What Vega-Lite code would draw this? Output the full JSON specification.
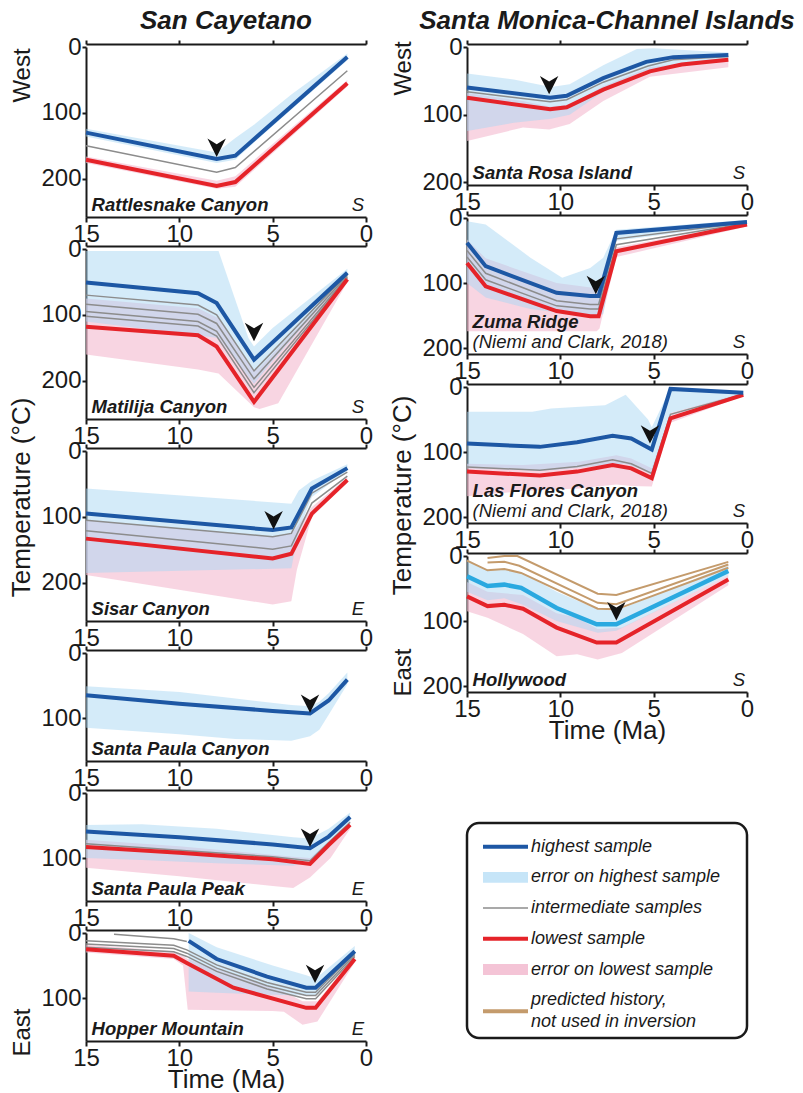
{
  "$schema": "https://vega.github.io/schema/vega-lite/v6.json",
  "padding": {"left": 8, "top": 8, "right": 0, "bottom": 0},
  "spacing": 16,
  "datasets": {
    "lines": [
      {"site":"RC","s":"hi","t":15,"T":130},{"site":"RC","s":"hi","t":8,"T":170},{"site":"RC","s":"hi","t":7,"T":165},{"site":"RC","s":"hi","t":1,"T":15},
      {"site":"RC","s":"g1","t":15,"T":150},{"site":"RC","s":"g1","t":8,"T":190},{"site":"RC","s":"g1","t":7,"T":183},{"site":"RC","s":"g1","t":1,"T":36},
      {"site":"RC","s":"lo","t":15,"T":171},{"site":"RC","s":"lo","t":8,"T":211},{"site":"RC","s":"lo","t":7,"T":205},{"site":"RC","s":"lo","t":1,"T":55},

      {"site":"MC","s":"hi","t":15,"T":51},{"site":"MC","s":"hi","t":9,"T":67},{"site":"MC","s":"hi","t":8,"T":82},{"site":"MC","s":"hi","t":6,"T":168},{"site":"MC","s":"hi","t":1,"T":36},
      {"site":"MC","s":"g1","t":15,"T":70},{"site":"MC","s":"g1","t":9,"T":85},{"site":"MC","s":"g1","t":8,"T":100},{"site":"MC","s":"g1","t":6,"T":185},{"site":"MC","s":"g1","t":1,"T":38},
      {"site":"MC","s":"g2","t":15,"T":84},{"site":"MC","s":"g2","t":9,"T":99},{"site":"MC","s":"g2","t":8,"T":113},{"site":"MC","s":"g2","t":6,"T":197},{"site":"MC","s":"g2","t":1,"T":40},
      {"site":"MC","s":"g3","t":15,"T":95},{"site":"MC","s":"g3","t":9,"T":110},{"site":"MC","s":"g3","t":8,"T":125},{"site":"MC","s":"g3","t":6,"T":210},{"site":"MC","s":"g3","t":1,"T":42},
      {"site":"MC","s":"g4","t":15,"T":102},{"site":"MC","s":"g4","t":9,"T":117},{"site":"MC","s":"g4","t":8,"T":132},{"site":"MC","s":"g4","t":6,"T":218},{"site":"MC","s":"g4","t":1,"T":44},
      {"site":"MC","s":"lo","t":15,"T":118},{"site":"MC","s":"lo","t":9,"T":131},{"site":"MC","s":"lo","t":8,"T":148},{"site":"MC","s":"lo","t":6,"T":232},{"site":"MC","s":"lo","t":1,"T":46},

      {"site":"SC","s":"hi","t":15,"T":95},{"site":"SC","s":"hi","t":5,"T":120},{"site":"SC","s":"hi","t":4,"T":116},{"site":"SC","s":"hi","t":2.9,"T":57},{"site":"SC","s":"hi","t":1,"T":26},
      {"site":"SC","s":"g1","t":15,"T":105},{"site":"SC","s":"g1","t":5,"T":130},{"site":"SC","s":"g1","t":4,"T":125},{"site":"SC","s":"g1","t":2.9,"T":64},{"site":"SC","s":"g1","t":1,"T":32},
      {"site":"SC","s":"g2","t":15,"T":121},{"site":"SC","s":"g2","t":5,"T":149},{"site":"SC","s":"g2","t":4,"T":144},{"site":"SC","s":"g2","t":2.9,"T":79},{"site":"SC","s":"g2","t":1,"T":38},
      {"site":"SC","s":"lo","t":15,"T":133},{"site":"SC","s":"lo","t":5,"T":163},{"site":"SC","s":"lo","t":4,"T":156},{"site":"SC","s":"lo","t":2.9,"T":95},{"site":"SC","s":"lo","t":1,"T":44},

      {"site":"SPC","s":"hi","t":15,"T":65},{"site":"SPC","s":"hi","t":10,"T":78},{"site":"SPC","s":"hi","t":5,"T":89},{"site":"SPC","s":"hi","t":3,"T":93},{"site":"SPC","s":"hi","t":2,"T":73},{"site":"SPC","s":"hi","t":1,"T":41},

      {"site":"SPP","s":"hi","t":15,"T":59},{"site":"SPP","s":"hi","t":10,"T":68},{"site":"SPP","s":"hi","t":5,"T":79},{"site":"SPP","s":"hi","t":3,"T":85},{"site":"SPP","s":"hi","t":2,"T":67},{"site":"SPP","s":"hi","t":0.85,"T":37},
      {"site":"SPP","s":"g1","t":15,"T":78},{"site":"SPP","s":"g1","t":10,"T":88},{"site":"SPP","s":"g1","t":5,"T":98},{"site":"SPP","s":"g1","t":3,"T":104},{"site":"SPP","s":"g1","t":2,"T":76},{"site":"SPP","s":"g1","t":0.85,"T":45},
      {"site":"SPP","s":"lo","t":15,"T":83},{"site":"SPP","s":"lo","t":10,"T":92},{"site":"SPP","s":"lo","t":5,"T":102},{"site":"SPP","s":"lo","t":3,"T":109},{"site":"SPP","s":"lo","t":2,"T":80},{"site":"SPP","s":"lo","t":0.85,"T":49},

      {"site":"HM","s":"g0","t":13.5,"T":2},{"site":"HM","s":"g0","t":10.3,"T":9},{"site":"HM","s":"g0","t":9.6,"T":13},
      {"site":"HM","s":"hi","t":9.5,"T":12},{"site":"HM","s":"hi","t":8,"T":40},{"site":"HM","s":"hi","t":5.3,"T":67},{"site":"HM","s":"hi","t":3.2,"T":84},{"site":"HM","s":"hi","t":2.7,"T":84},{"site":"HM","s":"hi","t":0.6,"T":28},
      {"site":"HM","s":"g1","t":15,"T":12},{"site":"HM","s":"g1","t":10.3,"T":19},{"site":"HM","s":"g1","t":9.6,"T":26},{"site":"HM","s":"g1","t":8,"T":49},{"site":"HM","s":"g1","t":5.3,"T":76},{"site":"HM","s":"g1","t":3.2,"T":91},{"site":"HM","s":"g1","t":2.7,"T":91},{"site":"HM","s":"g1","t":0.6,"T":30},
      {"site":"HM","s":"g2","t":15,"T":17},{"site":"HM","s":"g2","t":10.3,"T":24},{"site":"HM","s":"g2","t":9.6,"T":31},{"site":"HM","s":"g2","t":8,"T":54},{"site":"HM","s":"g2","t":5.3,"T":81},{"site":"HM","s":"g2","t":3.2,"T":96},{"site":"HM","s":"g2","t":2.7,"T":96},{"site":"HM","s":"g2","t":0.6,"T":33},
      {"site":"HM","s":"g3","t":15,"T":22},{"site":"HM","s":"g3","t":10.3,"T":29},{"site":"HM","s":"g3","t":9.6,"T":36},{"site":"HM","s":"g3","t":8,"T":59},{"site":"HM","s":"g3","t":5.3,"T":86},{"site":"HM","s":"g3","t":3.2,"T":101},{"site":"HM","s":"g3","t":2.7,"T":101},{"site":"HM","s":"g3","t":0.6,"T":36},
      {"site":"HM","s":"lo","t":15,"T":25},{"site":"HM","s":"lo","t":10.3,"T":35},{"site":"HM","s":"lo","t":9.6,"T":46},{"site":"HM","s":"lo","t":7.1,"T":84},{"site":"HM","s":"lo","t":3.2,"T":115},{"site":"HM","s":"lo","t":2.7,"T":115},{"site":"HM","s":"lo","t":0.6,"T":40},

      {"site":"SR","s":"hi","t":15,"T":60},{"site":"SR","s":"hi","t":10.55,"T":75},{"site":"SR","s":"hi","t":9.66,"T":72},{"site":"SR","s":"hi","t":7.7,"T":46},{"site":"SR","s":"hi","t":5.4,"T":22},{"site":"SR","s":"hi","t":3.95,"T":15},{"site":"SR","s":"hi","t":1,"T":12},
      {"site":"SR","s":"g1","t":15,"T":66},{"site":"SR","s":"g1","t":10.55,"T":81},{"site":"SR","s":"g1","t":9.66,"T":78},{"site":"SR","s":"g1","t":7.7,"T":52},{"site":"SR","s":"g1","t":5.3,"T":28},{"site":"SR","s":"g1","t":3.95,"T":19},{"site":"SR","s":"g1","t":1,"T":14},
      {"site":"SR","s":"lo","t":15,"T":75},{"site":"SR","s":"lo","t":10.55,"T":92},{"site":"SR","s":"lo","t":9.66,"T":89},{"site":"SR","s":"lo","t":7.7,"T":63},{"site":"SR","s":"lo","t":5.2,"T":36},{"site":"SR","s":"lo","t":3.5,"T":26},{"site":"SR","s":"lo","t":1,"T":19},

      {"site":"ZR","s":"hi","t":15,"T":38},{"site":"ZR","s":"hi","t":14,"T":74},{"site":"ZR","s":"hi","t":10.2,"T":115},{"site":"ZR","s":"hi","t":8.4,"T":120},{"site":"ZR","s":"hi","t":7.95,"T":120},{"site":"ZR","s":"hi","t":7,"T":23},{"site":"ZR","s":"hi","t":0,"T":6},
      {"site":"ZR","s":"g1","t":15,"T":50},{"site":"ZR","s":"g1","t":14,"T":85},{"site":"ZR","s":"g1","t":10.2,"T":127},{"site":"ZR","s":"g1","t":8.4,"T":133},{"site":"ZR","s":"g1","t":7.95,"T":133},{"site":"ZR","s":"g1","t":7,"T":32},{"site":"ZR","s":"g1","t":0,"T":7},
      {"site":"ZR","s":"g2","t":15,"T":60},{"site":"ZR","s":"g2","t":14,"T":95},{"site":"ZR","s":"g2","t":10.2,"T":135},{"site":"ZR","s":"g2","t":8.4,"T":140},{"site":"ZR","s":"g2","t":7.95,"T":140},{"site":"ZR","s":"g2","t":7,"T":41},{"site":"ZR","s":"g2","t":0,"T":8},
      {"site":"ZR","s":"lo","t":15,"T":69},{"site":"ZR","s":"lo","t":14,"T":105},{"site":"ZR","s":"lo","t":10.2,"T":143},{"site":"ZR","s":"lo","t":8.4,"T":151},{"site":"ZR","s":"lo","t":7.95,"T":151},{"site":"ZR","s":"lo","t":7,"T":51},{"site":"ZR","s":"lo","t":0,"T":10},

      {"site":"LF","s":"hi","t":15,"T":87},{"site":"LF","s":"hi","t":11.1,"T":92},{"site":"LF","s":"hi","t":9.1,"T":85},{"site":"LF","s":"hi","t":7.2,"T":75},{"site":"LF","s":"hi","t":6.2,"T":79},{"site":"LF","s":"hi","t":5.1,"T":96},{"site":"LF","s":"hi","t":4.1,"T":3},{"site":"LF","s":"hi","t":0.2,"T":9},
      {"site":"LF","s":"g1","t":15,"T":123},{"site":"LF","s":"g1","t":11.1,"T":128},{"site":"LF","s":"g1","t":9.1,"T":122},{"site":"LF","s":"g1","t":7.2,"T":112},{"site":"LF","s":"g1","t":6.2,"T":118},{"site":"LF","s":"g1","t":5.1,"T":133},{"site":"LF","s":"g1","t":4.1,"T":42},{"site":"LF","s":"g1","t":0.2,"T":11},
      {"site":"LF","s":"lo","t":15,"T":130},{"site":"LF","s":"lo","t":11.1,"T":136},{"site":"LF","s":"lo","t":9.1,"T":130},{"site":"LF","s":"lo","t":7.2,"T":120},{"site":"LF","s":"lo","t":6.2,"T":125},{"site":"LF","s":"lo","t":5.1,"T":140},{"site":"LF","s":"lo","t":4.1,"T":48},{"site":"LF","s":"lo","t":0.2,"T":12},

      {"site":"HW","s":"hc","t":15,"T":31},{"site":"HW","s":"hc","t":13.9,"T":46},{"site":"HW","s":"hc","t":13,"T":44},{"site":"HW","s":"hc","t":12.1,"T":49},{"site":"HW","s":"hc","t":10.2,"T":80},{"site":"HW","s":"hc","t":8.05,"T":105},{"site":"HW","s":"hc","t":7,"T":105},{"site":"HW","s":"hc","t":1,"T":23},
      {"site":"HW","s":"lo","t":15,"T":62},{"site":"HW","s":"lo","t":13.9,"T":77},{"site":"HW","s":"lo","t":13,"T":75},{"site":"HW","s":"lo","t":12,"T":81},{"site":"HW","s":"lo","t":10.2,"T":110},{"site":"HW","s":"lo","t":8.05,"T":133},{"site":"HW","s":"lo","t":7,"T":133},{"site":"HW","s":"lo","t":1,"T":36},
      {"site":"HW","s":"p1","t":13.9,"T":3},{"site":"HW","s":"p1","t":13,"T":0},{"site":"HW","s":"p1","t":12.3,"T":0},{"site":"HW","s":"p1","t":8,"T":58},{"site":"HW","s":"p1","t":7,"T":60},{"site":"HW","s":"p1","t":1,"T":9},
      {"site":"HW","s":"p2","t":13.9,"T":10},{"site":"HW","s":"p2","t":13,"T":9},{"site":"HW","s":"p2","t":12.2,"T":15},{"site":"HW","s":"p2","t":8,"T":72},{"site":"HW","s":"p2","t":7,"T":74},{"site":"HW","s":"p2","t":1,"T":13},
      {"site":"HW","s":"p3","t":15,"T":7},{"site":"HW","s":"p3","t":13.9,"T":22},{"site":"HW","s":"p3","t":13,"T":20},{"site":"HW","s":"p3","t":12.1,"T":26},{"site":"HW","s":"p3","t":8,"T":81},{"site":"HW","s":"p3","t":7,"T":82},{"site":"HW","s":"p3","t":1,"T":18}
    ],
    "bands": [
      {"site":"RC","b":"hi","t":15,"T":124,"T2":136},{"site":"RC","b":"hi","t":8,"T":160,"T2":176},{"site":"RC","b":"hi","t":7,"T":138,"T2":171},{"site":"RC","b":"hi","t":6,"T":118,"T2":145},{"site":"RC","b":"hi","t":4,"T":72,"T2":95},{"site":"RC","b":"hi","t":1,"T":10,"T2":20},
      {"site":"RC","b":"lo","t":15,"T":166,"T2":176},{"site":"RC","b":"lo","t":8,"T":203,"T2":215},{"site":"RC","b":"lo","t":7,"T":196,"T2":212},{"site":"RC","b":"lo","t":1,"T":50,"T2":60},

      {"site":"MC","b":"hi","t":15,"T":3,"T2":110},{"site":"MC","b":"hi","t":7.9,"T":3,"T2":135},{"site":"MC","b":"hi","t":6.3,"T":135,"T2":194},{"site":"MC","b":"hi","t":6,"T":148,"T2":205},{"site":"MC","b":"hi","t":5,"T":120,"T2":170},{"site":"MC","b":"hi","t":1,"T":30,"T2":42},
      {"site":"MC","b":"lo","t":15,"T":75,"T2":160},{"site":"MC","b":"lo","t":9,"T":90,"T2":183},{"site":"MC","b":"lo","t":7.9,"T":105,"T2":189},{"site":"MC","b":"lo","t":6,"T":185,"T2":240},{"site":"MC","b":"lo","t":5.7,"T":180,"T2":243},{"site":"MC","b":"lo","t":4.7,"T":150,"T2":234},{"site":"MC","b":"lo","t":1,"T":40,"T2":50},

      {"site":"SC","b":"hi","t":15,"T":57,"T2":185},{"site":"SC","b":"hi","t":4,"T":80,"T2":178},{"site":"SC","b":"hi","t":3.6,"T":60,"T2":120},{"site":"SC","b":"hi","t":2.9,"T":45,"T2":70},{"site":"SC","b":"hi","t":1,"T":20,"T2":30},
      {"site":"SC","b":"lo","t":15,"T":105,"T2":188},{"site":"SC","b":"lo","t":5,"T":130,"T2":233},{"site":"SC","b":"lo","t":4,"T":125,"T2":228},{"site":"SC","b":"lo","t":3.7,"T":115,"T2":180},{"site":"SC","b":"lo","t":2.9,"T":85,"T2":100},{"site":"SC","b":"lo","t":1,"T":40,"T2":48},

      {"site":"SPC","b":"hi","t":15,"T":51,"T2":115},{"site":"SPC","b":"hi","t":10,"T":60,"T2":125},{"site":"SPC","b":"hi","t":7,"T":70,"T2":132},{"site":"SPC","b":"hi","t":4,"T":80,"T2":135},{"site":"SPC","b":"hi","t":3,"T":82,"T2":128},{"site":"SPC","b":"hi","t":2.5,"T":75,"T2":118},{"site":"SPC","b":"hi","t":2,"T":62,"T2":95},{"site":"SPC","b":"hi","t":1,"T":30,"T2":48},

      {"site":"SPP","b":"hi","t":15,"T":49,"T2":100},{"site":"SPP","b":"hi","t":12,"T":48,"T2":103},{"site":"SPP","b":"hi","t":8,"T":55,"T2":108},{"site":"SPP","b":"hi","t":3.9,"T":68,"T2":112},{"site":"SPP","b":"hi","t":3,"T":70,"T2":105},{"site":"SPP","b":"hi","t":2,"T":55,"T2":85},{"site":"SPP","b":"hi","t":0.85,"T":30,"T2":45},
      {"site":"SPP","b":"lo","t":15,"T":72,"T2":115},{"site":"SPP","b":"lo","t":10,"T":82,"T2":128},{"site":"SPP","b":"lo","t":5,"T":95,"T2":143},{"site":"SPP","b":"lo","t":3.9,"T":98,"T2":146},{"site":"SPP","b":"lo","t":3,"T":100,"T2":130},{"site":"SPP","b":"lo","t":1.9,"T":72,"T2":100},{"site":"SPP","b":"lo","t":0.85,"T":45,"T2":55},

      {"site":"HM","b":"hi","t":9.5,"T":0,"T2":90},{"site":"HM","b":"hi","t":8,"T":22,"T2":92},{"site":"HM","b":"hi","t":5,"T":50,"T2":95},{"site":"HM","b":"hi","t":3.2,"T":65,"T2":96},{"site":"HM","b":"hi","t":2.7,"T":70,"T2":96},{"site":"HM","b":"hi","t":0.6,"T":20,"T2":35},
      {"site":"HM","b":"lo","t":15,"T":18,"T2":30},{"site":"HM","b":"lo","t":10.3,"T":28,"T2":40},{"site":"HM","b":"lo","t":9.8,"T":35,"T2":50},{"site":"HM","b":"lo","t":9.55,"T":40,"T2":118},{"site":"HM","b":"lo","t":5,"T":85,"T2":120},{"site":"HM","b":"lo","t":4.4,"T":90,"T2":121},{"site":"HM","b":"lo","t":3.4,"T":105,"T2":141},{"site":"HM","b":"lo","t":2.6,"T":105,"T2":136},{"site":"HM","b":"lo","t":0.6,"T":35,"T2":45},

      {"site":"SR","b":"hi","t":15,"T":39,"T2":124},{"site":"SR","b":"hi","t":12.5,"T":48,"T2":112},{"site":"SR","b":"hi","t":10.5,"T":59,"T2":106},{"site":"SR","b":"hi","t":9.5,"T":55,"T2":100},{"site":"SR","b":"hi","t":7.7,"T":27,"T2":66},{"site":"SR","b":"hi","t":5.9,"T":3,"T2":40},{"site":"SR","b":"hi","t":5,"T":2,"T2":32},{"site":"SR","b":"hi","t":1,"T":8,"T2":18},
      {"site":"SR","b":"lo","t":15,"T":68,"T2":139},{"site":"SR","b":"lo","t":12,"T":80,"T2":119},{"site":"SR","b":"lo","t":10.6,"T":88,"T2":122},{"site":"SR","b":"lo","t":9.5,"T":85,"T2":114},{"site":"SR","b":"lo","t":7.7,"T":58,"T2":80},{"site":"SR","b":"lo","t":5.2,"T":30,"T2":44},{"site":"SR","b":"lo","t":1,"T":15,"T2":30},

      {"site":"ZR","b":"hi","t":15,"T":5,"T2":100},{"site":"ZR","b":"hi","t":14,"T":10,"T2":122},{"site":"ZR","b":"hi","t":11.6,"T":61,"T2":140},{"site":"ZR","b":"hi","t":9.9,"T":92,"T2":146},{"site":"ZR","b":"hi","t":8.4,"T":77,"T2":150},{"site":"ZR","b":"hi","t":7.7,"T":61,"T2":148},{"site":"ZR","b":"hi","t":7,"T":18,"T2":35},{"site":"ZR","b":"hi","t":0,"T":3,"T2":9},
      {"site":"ZR","b":"lo","t":15,"T":33,"T2":174},{"site":"ZR","b":"lo","t":14,"T":62,"T2":174},{"site":"ZR","b":"lo","t":10.2,"T":100,"T2":174},{"site":"ZR","b":"lo","t":8.05,"T":108,"T2":174},{"site":"ZR","b":"lo","t":7.9,"T":100,"T2":170},{"site":"ZR","b":"lo","t":7,"T":45,"T2":60},{"site":"ZR","b":"lo","t":0,"T":8,"T2":13},

      {"site":"LF","b":"hi","t":15,"T":38,"T2":125},{"site":"LF","b":"hi","t":11.5,"T":38,"T2":128},{"site":"LF","b":"hi","t":10.5,"T":33,"T2":128},{"site":"LF","b":"hi","t":7.6,"T":28,"T2":120},{"site":"LF","b":"hi","t":6.5,"T":12,"T2":118},{"site":"LF","b":"hi","t":5.3,"T":50,"T2":130},{"site":"LF","b":"hi","t":5.1,"T":62,"T2":135},{"site":"LF","b":"hi","t":4.1,"T":2,"T2":40},{"site":"LF","b":"hi","t":0.2,"T":6,"T2":10},
      {"site":"LF","b":"lo","t":15,"T":118,"T2":168},{"site":"LF","b":"lo","t":12,"T":120,"T2":160},{"site":"LF","b":"lo","t":9,"T":115,"T2":156},{"site":"LF","b":"lo","t":7,"T":105,"T2":150},{"site":"LF","b":"lo","t":6.2,"T":110,"T2":152},{"site":"LF","b":"lo","t":5.1,"T":125,"T2":153},{"site":"LF","b":"lo","t":4.1,"T":40,"T2":55},{"site":"LF","b":"lo","t":0.2,"T":9,"T2":14},

      {"site":"HW","b":"hi","t":15,"T":5,"T2":55},{"site":"HW","b":"hi","t":13.9,"T":22,"T2":68},{"site":"HW","b":"hi","t":13,"T":20,"T2":65},{"site":"HW","b":"hi","t":12,"T":26,"T2":75},{"site":"HW","b":"hi","t":10.2,"T":55,"T2":100},{"site":"HW","b":"hi","t":8,"T":82,"T2":118},{"site":"HW","b":"hi","t":7,"T":84,"T2":115},{"site":"HW","b":"hi","t":1,"T":15,"T2":30},
      {"site":"HW","b":"lo","t":15,"T":40,"T2":85},{"site":"HW","b":"lo","t":13.9,"T":55,"T2":95},{"site":"HW","b":"lo","t":12,"T":60,"T2":120},{"site":"HW","b":"lo","t":10.2,"T":88,"T2":154},{"site":"HW","b":"lo","t":9.1,"T":95,"T2":151},{"site":"HW","b":"lo","t":8,"T":112,"T2":159},{"site":"HW","b":"lo","t":6.7,"T":110,"T2":149},{"site":"HW","b":"lo","t":1,"T":30,"T2":45}
    ],
    "arrows": [
      {"site":"RC","t":8,"T":167},{"site":"MC","t":6,"T":140},{"site":"SC","t":4.95,"T":119},{"site":"SPC","t":3,"T":92},{"site":"SPP","t":3,"T":83},
      {"site":"HM","t":2.73,"T":77},{"site":"SR","t":10.6,"T":70},{"site":"ZR","t":8.1,"T":117},{"site":"LF","t":5.2,"T":87},{"site":"HW","t":7,"T":99}
    ],
    "names": [
      {"site":"RC","name":"Rattlesnake Canyon","dir":"S"},
      {"site":"MC","name":"Matilija Canyon","dir":"S"},
      {"site":"SC","name":"Sisar Canyon","dir":"E"},
      {"site":"SPC","name":"Santa Paula Canyon"},
      {"site":"SPP","name":"Santa Paula Peak","dir":"E"},
      {"site":"HM","name":"Hopper Mountain","dir":"E"},
      {"site":"SR","name":"Santa Rosa Island","dir":"S"},
      {"site":"ZR","name":"Zuma Ridge","note":"(Niemi and Clark, 2018)","dir":"S"},
      {"site":"LF","name":"Las Flores Canyon","note":"(Niemi and Clark, 2018)","dir":"S"},
      {"site":"HW","name":"Hollywood","dir":"S"}
    ],
    "key": [
      {"item":"highest sample","label":"highest sample"},
      {"item":"error on highest sample","label":"error on highest sample"},
      {"item":"intermediate samples","label":"intermediate samples"},
      {"item":"lowest sample","label":"lowest sample"},
      {"item":"error on lowest sample","label":"error on lowest sample"},
      {"item":"predicted history","label":["predicted history,","not used in inversion"]}
    ]
  },
  "hconcat": [
    {
      "vconcat": [
        {
          "width": 280, "height": 170,
          "title": {"text": "San Cayetano"},
          "layer": [
            {"data": {"name": "bands"}, "transform": [{"filter": "datum.site==='RC'&&datum.b==='lo'"}], "mark": {"type": "area", "color": "#f4bfd3", "opacity": 0.65},
             "encoding": {"x": {"field": "t", "type": "quantitative", "scale": {"domain": [0, 15], "reverse": true, "nice": false, "zero": false}, "axis": null}, "y": {"field": "T", "type": "quantitative", "scale": {"domain": [0, 258], "reverse": true, "nice": false, "zero": false}, "axis": {"values": [0, 100, 200], "title": "West", "titleY": 28}}, "y2": {"field": "T2"}}},
            {"data": {"name": "bands"}, "transform": [{"filter": "datum.site==='RC'&&datum.b==='hi'"}], "mark": {"type": "area", "color": "#a9d8f3", "opacity": 0.5},
             "encoding": {"x": {"field": "t", "type": "quantitative", "scale": {"domain": [0, 15], "reverse": true, "nice": false, "zero": false}, "axis": {"orient": "top", "values": [0, 5, 10, 15], "labels": false, "title": null, "offset": 3}}, "y": {"field": "T", "type": "quantitative", "scale": {"domain": [0, 258], "reverse": true, "nice": false, "zero": false}, "axis": {"values": [0, 100, 200], "title": "West", "titleY": 28}}, "y2": {"field": "T2"}}},
            {"data": {"name": "lines"}, "transform": [{"filter": "datum.site==='RC'&&slice(datum.s,0,1)==='g'"}], "mark": {"type": "line", "color": "#8c8c8c", "strokeWidth": 1.5},
             "encoding": {"x": {"field": "t", "type": "quantitative", "scale": {"domain": [0, 15], "reverse": true, "nice": false, "zero": false}, "axis": null}, "y": {"field": "T", "type": "quantitative", "scale": {"domain": [0, 258], "reverse": true, "nice": false, "zero": false}, "axis": {"values": [0, 100, 200], "title": "West", "titleY": 28}}, "detail": {"field": "s"}}},
            {"data": {"name": "lines"}, "transform": [{"filter": "datum.site==='RC'&&datum.s==='lo'"}], "mark": {"type": "line", "color": "#e52329", "strokeWidth": 4},
             "encoding": {"x": {"field": "t", "type": "quantitative", "scale": {"domain": [0, 15], "reverse": true, "nice": false, "zero": false}, "axis": null}, "y": {"field": "T", "type": "quantitative", "scale": {"domain": [0, 258], "reverse": true, "nice": false, "zero": false}, "axis": {"values": [0, 100, 200], "title": "West", "titleY": 28}}}},
            {"data": {"name": "lines"}, "transform": [{"filter": "datum.site==='RC'&&datum.s==='hi'"}], "mark": {"type": "line", "color": "#1d57a4", "strokeWidth": 4},
             "encoding": {"x": {"field": "t", "type": "quantitative", "scale": {"domain": [0, 15], "reverse": true, "nice": false, "zero": false}, "axis": {"orient": "bottom", "values": [0, 5, 10, 15], "title": null}}, "y": {"field": "T", "type": "quantitative", "scale": {"domain": [0, 258], "reverse": true, "nice": false, "zero": false}, "axis": {"values": [0, 100, 200], "title": "West", "titleY": 28}}}},
            {"data": {"name": "arrows"}, "transform": [{"filter": "datum.site==='RC'"}], "mark": {"type": "point", "shape": "M0,0L-1,-2L0,-1.4L1,-2Z", "filled": true, "color": "#111111", "opacity": 1, "size": 340, "strokeWidth": 0},
             "encoding": {"x": {"field": "t", "type": "quantitative", "scale": {"domain": [0, 15], "reverse": true, "nice": false, "zero": false}, "axis": null}, "y": {"field": "T", "type": "quantitative", "scale": {"domain": [0, 258], "reverse": true, "nice": false, "zero": false}, "axis": {"values": [0, 100, 200], "title": "West", "titleY": 28}}}},
            {"data": {"name": "names"}, "transform": [{"filter": "datum.site==='RC'"}], "mark": {"type": "text", "align": "left", "baseline": "alphabetic", "dy": -6, "fontSize": 18.5, "fontStyle": "italic", "fontWeight": "bold", "color": "#1a1a1a"},
             "encoding": {"x": {"datum": 14.7, "type": "quantitative", "axis": null}, "y": {"datum": 258, "type": "quantitative"}, "text": {"field": "name", "type": "nominal"}}},
            {"data": {"name": "names"}, "transform": [{"filter": "datum.site==='RC'"}], "mark": {"type": "text", "align": "right", "baseline": "alphabetic", "dy": -6, "fontSize": 18.5, "fontStyle": "italic", "color": "#1a1a1a"},
             "encoding": {"x": {"datum": 0.1, "type": "quantitative", "axis": null}, "y": {"datum": 258, "type": "quantitative"}, "text": {"field": "dir", "type": "nominal"}}}
          ],
          "resolve": {"axis": {"x": "independent"}}
        },
        {
          "width": 280, "height": 170,
          "layer": [
            {"data": {"name": "bands"}, "transform": [{"filter": "datum.site==='MC'&&datum.b==='lo'"}], "mark": {"type": "area", "color": "#f4bfd3", "opacity": 0.65},
             "encoding": {"x": {"field": "t", "type": "quantitative", "scale": {"domain": [0, 15], "reverse": true, "nice": false, "zero": false}, "axis": null}, "y": {"field": "T", "type": "quantitative", "scale": {"domain": [0, 258], "reverse": true, "nice": false, "zero": false}, "axis": {"values": [0, 100, 200], "title": null}}, "y2": {"field": "T2"}}},
            {"data": {"name": "bands"}, "transform": [{"filter": "datum.site==='MC'&&datum.b==='hi'"}], "mark": {"type": "area", "color": "#a9d8f3", "opacity": 0.5},
             "encoding": {"x": {"field": "t", "type": "quantitative", "scale": {"domain": [0, 15], "reverse": true, "nice": false, "zero": false}, "axis": {"orient": "top", "values": [0, 5, 10, 15], "labels": false, "title": null, "offset": 3}}, "y": {"field": "T", "type": "quantitative", "scale": {"domain": [0, 258], "reverse": true, "nice": false, "zero": false}, "axis": {"values": [0, 100, 200], "title": null}}, "y2": {"field": "T2"}}},
            {"data": {"name": "lines"}, "transform": [{"filter": "datum.site==='MC'&&slice(datum.s,0,1)==='g'"}], "mark": {"type": "line", "color": "#8c8c8c", "strokeWidth": 1.5},
             "encoding": {"x": {"field": "t", "type": "quantitative", "scale": {"domain": [0, 15], "reverse": true, "nice": false, "zero": false}, "axis": null}, "y": {"field": "T", "type": "quantitative", "scale": {"domain": [0, 258], "reverse": true, "nice": false, "zero": false}, "axis": {"values": [0, 100, 200], "title": null}}, "detail": {"field": "s"}}},
            {"data": {"name": "lines"}, "transform": [{"filter": "datum.site==='MC'&&datum.s==='lo'"}], "mark": {"type": "line", "color": "#e52329", "strokeWidth": 4},
             "encoding": {"x": {"field": "t", "type": "quantitative", "scale": {"domain": [0, 15], "reverse": true, "nice": false, "zero": false}, "axis": null}, "y": {"field": "T", "type": "quantitative", "scale": {"domain": [0, 258], "reverse": true, "nice": false, "zero": false}, "axis": {"values": [0, 100, 200], "title": null}}}},
            {"data": {"name": "lines"}, "transform": [{"filter": "datum.site==='MC'&&datum.s==='hi'"}], "mark": {"type": "line", "color": "#1d57a4", "strokeWidth": 4},
             "encoding": {"x": {"field": "t", "type": "quantitative", "scale": {"domain": [0, 15], "reverse": true, "nice": false, "zero": false}, "axis": {"orient": "bottom", "values": [0, 5, 10, 15], "title": null}}, "y": {"field": "T", "type": "quantitative", "scale": {"domain": [0, 258], "reverse": true, "nice": false, "zero": false}, "axis": {"values": [0, 100, 200], "title": null}}}},
            {"data": {"name": "arrows"}, "transform": [{"filter": "datum.site==='MC'"}], "mark": {"type": "point", "shape": "M0,0L-1,-2L0,-1.4L1,-2Z", "filled": true, "color": "#111111", "opacity": 1, "size": 340, "strokeWidth": 0},
             "encoding": {"x": {"field": "t", "type": "quantitative", "scale": {"domain": [0, 15], "reverse": true, "nice": false, "zero": false}, "axis": null}, "y": {"field": "T", "type": "quantitative", "scale": {"domain": [0, 258], "reverse": true, "nice": false, "zero": false}, "axis": {"values": [0, 100, 200], "title": null}}}},
            {"data": {"name": "names"}, "transform": [{"filter": "datum.site==='MC'"}], "mark": {"type": "text", "align": "left", "baseline": "alphabetic", "dy": -6, "fontSize": 18.5, "fontStyle": "italic", "fontWeight": "bold", "color": "#1a1a1a"},
             "encoding": {"x": {"datum": 14.7, "type": "quantitative", "axis": null}, "y": {"datum": 258, "type": "quantitative"}, "text": {"field": "name", "type": "nominal"}}},
            {"data": {"name": "names"}, "transform": [{"filter": "datum.site==='MC'"}], "mark": {"type": "text", "align": "right", "baseline": "alphabetic", "dy": -6, "fontSize": 18.5, "fontStyle": "italic", "color": "#1a1a1a"},
             "encoding": {"x": {"datum": 0.1, "type": "quantitative", "axis": null}, "y": {"datum": 258, "type": "quantitative"}, "text": {"field": "dir", "type": "nominal"}}}
          ],
          "resolve": {"axis": {"x": "independent"}}
        },
        {
          "width": 280, "height": 170,
          "layer": [
            {"data": {"name": "bands"}, "transform": [{"filter": "datum.site==='SC'&&datum.b==='lo'"}], "mark": {"type": "area", "color": "#f4bfd3", "opacity": 0.65},
             "encoding": {"x": {"field": "t", "type": "quantitative", "scale": {"domain": [0, 15], "reverse": true, "nice": false, "zero": false}, "axis": null}, "y": {"field": "T", "type": "quantitative", "scale": {"domain": [0, 258], "reverse": true, "nice": false, "zero": false}, "axis": {"values": [0, 100, 200], "title": "Temperature (°C)", "titleFontSize": 26, "titleY": 46}}, "y2": {"field": "T2"}}},
            {"data": {"name": "bands"}, "transform": [{"filter": "datum.site==='SC'&&datum.b==='hi'"}], "mark": {"type": "area", "color": "#a9d8f3", "opacity": 0.5},
             "encoding": {"x": {"field": "t", "type": "quantitative", "scale": {"domain": [0, 15], "reverse": true, "nice": false, "zero": false}, "axis": {"orient": "top", "values": [0, 5, 10, 15], "labels": false, "title": null, "offset": 3}}, "y": {"field": "T", "type": "quantitative", "scale": {"domain": [0, 258], "reverse": true, "nice": false, "zero": false}, "axis": {"values": [0, 100, 200], "title": "Temperature (°C)", "titleFontSize": 26, "titleY": 46}}, "y2": {"field": "T2"}}},
            {"data": {"name": "lines"}, "transform": [{"filter": "datum.site==='SC'&&slice(datum.s,0,1)==='g'"}], "mark": {"type": "line", "color": "#8c8c8c", "strokeWidth": 1.5},
             "encoding": {"x": {"field": "t", "type": "quantitative", "scale": {"domain": [0, 15], "reverse": true, "nice": false, "zero": false}, "axis": null}, "y": {"field": "T", "type": "quantitative", "scale": {"domain": [0, 258], "reverse": true, "nice": false, "zero": false}, "axis": {"values": [0, 100, 200], "title": "Temperature (°C)", "titleFontSize": 26, "titleY": 46}}, "detail": {"field": "s"}}},
            {"data": {"name": "lines"}, "transform": [{"filter": "datum.site==='SC'&&datum.s==='lo'"}], "mark": {"type": "line", "color": "#e52329", "strokeWidth": 4},
             "encoding": {"x": {"field": "t", "type": "quantitative", "scale": {"domain": [0, 15], "reverse": true, "nice": false, "zero": false}, "axis": null}, "y": {"field": "T", "type": "quantitative", "scale": {"domain": [0, 258], "reverse": true, "nice": false, "zero": false}, "axis": {"values": [0, 100, 200], "title": "Temperature (°C)", "titleFontSize": 26, "titleY": 46}}}},
            {"data": {"name": "lines"}, "transform": [{"filter": "datum.site==='SC'&&datum.s==='hi'"}], "mark": {"type": "line", "color": "#1d57a4", "strokeWidth": 4},
             "encoding": {"x": {"field": "t", "type": "quantitative", "scale": {"domain": [0, 15], "reverse": true, "nice": false, "zero": false}, "axis": {"orient": "bottom", "values": [0, 5, 10, 15], "title": null}}, "y": {"field": "T", "type": "quantitative", "scale": {"domain": [0, 258], "reverse": true, "nice": false, "zero": false}, "axis": {"values": [0, 100, 200], "title": "Temperature (°C)", "titleFontSize": 26, "titleY": 46}}}},
            {"data": {"name": "arrows"}, "transform": [{"filter": "datum.site==='SC'"}], "mark": {"type": "point", "shape": "M0,0L-1,-2L0,-1.4L1,-2Z", "filled": true, "color": "#111111", "opacity": 1, "size": 340, "strokeWidth": 0},
             "encoding": {"x": {"field": "t", "type": "quantitative", "scale": {"domain": [0, 15], "reverse": true, "nice": false, "zero": false}, "axis": null}, "y": {"field": "T", "type": "quantitative", "scale": {"domain": [0, 258], "reverse": true, "nice": false, "zero": false}, "axis": {"values": [0, 100, 200], "title": "Temperature (°C)", "titleFontSize": 26, "titleY": 46}}}},
            {"data": {"name": "names"}, "transform": [{"filter": "datum.site==='SC'"}], "mark": {"type": "text", "align": "left", "baseline": "alphabetic", "dy": -6, "fontSize": 18.5, "fontStyle": "italic", "fontWeight": "bold", "color": "#1a1a1a"},
             "encoding": {"x": {"datum": 14.7, "type": "quantitative", "axis": null}, "y": {"datum": 258, "type": "quantitative"}, "text": {"field": "name", "type": "nominal"}}},
            {"data": {"name": "names"}, "transform": [{"filter": "datum.site==='SC'"}], "mark": {"type": "text", "align": "right", "baseline": "alphabetic", "dy": -6, "fontSize": 18.5, "fontStyle": "italic", "color": "#1a1a1a"},
             "encoding": {"x": {"datum": 0.1, "type": "quantitative", "axis": null}, "y": {"datum": 258, "type": "quantitative"}, "text": {"field": "dir", "type": "nominal"}}}
          ],
          "resolve": {"axis": {"x": "independent"}}
        },
        {
          "width": 280, "height": 108,
          "layer": [
            {"data": {"name": "bands"}, "transform": [{"filter": "datum.site==='SPC'&&datum.b==='hi'"}], "mark": {"type": "area", "color": "#a9d8f3", "opacity": 0.5},
             "encoding": {"x": {"field": "t", "type": "quantitative", "scale": {"domain": [0, 15], "reverse": true, "nice": false, "zero": false}, "axis": {"orient": "top", "values": [0, 5, 10, 15], "labels": false, "title": null, "offset": 3}}, "y": {"field": "T", "type": "quantitative", "scale": {"domain": [0, 166], "reverse": true, "nice": false, "zero": false}, "axis": {"values": [0, 100], "title": null}}, "y2": {"field": "T2"}}},
            {"data": {"name": "lines"}, "transform": [{"filter": "datum.site==='SPC'&&datum.s==='hi'"}], "mark": {"type": "line", "color": "#1d57a4", "strokeWidth": 4},
             "encoding": {"x": {"field": "t", "type": "quantitative", "scale": {"domain": [0, 15], "reverse": true, "nice": false, "zero": false}, "axis": {"orient": "bottom", "values": [0, 5, 10, 15], "title": null}}, "y": {"field": "T", "type": "quantitative", "scale": {"domain": [0, 166], "reverse": true, "nice": false, "zero": false}, "axis": {"values": [0, 100], "title": null}}}},
            {"data": {"name": "arrows"}, "transform": [{"filter": "datum.site==='SPC'"}], "mark": {"type": "point", "shape": "M0,0L-1,-2L0,-1.4L1,-2Z", "filled": true, "color": "#111111", "opacity": 1, "size": 340, "strokeWidth": 0},
             "encoding": {"x": {"field": "t", "type": "quantitative", "scale": {"domain": [0, 15], "reverse": true, "nice": false, "zero": false}, "axis": null}, "y": {"field": "T", "type": "quantitative", "scale": {"domain": [0, 166], "reverse": true, "nice": false, "zero": false}, "axis": {"values": [0, 100], "title": null}}}},
            {"data": {"name": "names"}, "transform": [{"filter": "datum.site==='SPC'"}], "mark": {"type": "text", "align": "left", "baseline": "alphabetic", "dy": -6, "fontSize": 18.5, "fontStyle": "italic", "fontWeight": "bold", "color": "#1a1a1a"},
             "encoding": {"x": {"datum": 14.7, "type": "quantitative", "axis": null}, "y": {"datum": 166, "type": "quantitative"}, "text": {"field": "name", "type": "nominal"}}}
          ],
          "resolve": {"axis": {"x": "independent"}}
        },
        {
          "width": 280, "height": 108,
          "layer": [
            {"data": {"name": "bands"}, "transform": [{"filter": "datum.site==='SPP'&&datum.b==='lo'"}], "mark": {"type": "area", "color": "#f4bfd3", "opacity": 0.65},
             "encoding": {"x": {"field": "t", "type": "quantitative", "scale": {"domain": [0, 15], "reverse": true, "nice": false, "zero": false}, "axis": null}, "y": {"field": "T", "type": "quantitative", "scale": {"domain": [0, 166], "reverse": true, "nice": false, "zero": false}, "axis": {"values": [0, 100], "title": null}}, "y2": {"field": "T2"}}},
            {"data": {"name": "bands"}, "transform": [{"filter": "datum.site==='SPP'&&datum.b==='hi'"}], "mark": {"type": "area", "color": "#a9d8f3", "opacity": 0.5},
             "encoding": {"x": {"field": "t", "type": "quantitative", "scale": {"domain": [0, 15], "reverse": true, "nice": false, "zero": false}, "axis": {"orient": "top", "values": [0, 5, 10, 15], "labels": false, "title": null, "offset": 3}}, "y": {"field": "T", "type": "quantitative", "scale": {"domain": [0, 166], "reverse": true, "nice": false, "zero": false}, "axis": {"values": [0, 100], "title": null}}, "y2": {"field": "T2"}}},
            {"data": {"name": "lines"}, "transform": [{"filter": "datum.site==='SPP'&&slice(datum.s,0,1)==='g'"}], "mark": {"type": "line", "color": "#8c8c8c", "strokeWidth": 1.5},
             "encoding": {"x": {"field": "t", "type": "quantitative", "scale": {"domain": [0, 15], "reverse": true, "nice": false, "zero": false}, "axis": null}, "y": {"field": "T", "type": "quantitative", "scale": {"domain": [0, 166], "reverse": true, "nice": false, "zero": false}, "axis": {"values": [0, 100], "title": null}}, "detail": {"field": "s"}}},
            {"data": {"name": "lines"}, "transform": [{"filter": "datum.site==='SPP'&&datum.s==='lo'"}], "mark": {"type": "line", "color": "#e52329", "strokeWidth": 4},
             "encoding": {"x": {"field": "t", "type": "quantitative", "scale": {"domain": [0, 15], "reverse": true, "nice": false, "zero": false}, "axis": null}, "y": {"field": "T", "type": "quantitative", "scale": {"domain": [0, 166], "reverse": true, "nice": false, "zero": false}, "axis": {"values": [0, 100], "title": null}}}},
            {"data": {"name": "lines"}, "transform": [{"filter": "datum.site==='SPP'&&datum.s==='hi'"}], "mark": {"type": "line", "color": "#1d57a4", "strokeWidth": 4},
             "encoding": {"x": {"field": "t", "type": "quantitative", "scale": {"domain": [0, 15], "reverse": true, "nice": false, "zero": false}, "axis": {"orient": "bottom", "values": [0, 5, 10, 15], "title": null}}, "y": {"field": "T", "type": "quantitative", "scale": {"domain": [0, 166], "reverse": true, "nice": false, "zero": false}, "axis": {"values": [0, 100], "title": null}}}},
            {"data": {"name": "arrows"}, "transform": [{"filter": "datum.site==='SPP'"}], "mark": {"type": "point", "shape": "M0,0L-1,-2L0,-1.4L1,-2Z", "filled": true, "color": "#111111", "opacity": 1, "size": 340, "strokeWidth": 0},
             "encoding": {"x": {"field": "t", "type": "quantitative", "scale": {"domain": [0, 15], "reverse": true, "nice": false, "zero": false}, "axis": null}, "y": {"field": "T", "type": "quantitative", "scale": {"domain": [0, 166], "reverse": true, "nice": false, "zero": false}, "axis": {"values": [0, 100], "title": null}}}},
            {"data": {"name": "names"}, "transform": [{"filter": "datum.site==='SPP'"}], "mark": {"type": "text", "align": "left", "baseline": "alphabetic", "dy": -6, "fontSize": 18.5, "fontStyle": "italic", "fontWeight": "bold", "color": "#1a1a1a"},
             "encoding": {"x": {"datum": 14.7, "type": "quantitative", "axis": null}, "y": {"datum": 166, "type": "quantitative"}, "text": {"field": "name", "type": "nominal"}}},
            {"data": {"name": "names"}, "transform": [{"filter": "datum.site==='SPP'"}], "mark": {"type": "text", "align": "right", "baseline": "alphabetic", "dy": -6, "fontSize": 18.5, "fontStyle": "italic", "color": "#1a1a1a"},
             "encoding": {"x": {"datum": 0.1, "type": "quantitative", "axis": null}, "y": {"datum": 166, "type": "quantitative"}, "text": {"field": "dir", "type": "nominal"}}}
          ],
          "resolve": {"axis": {"x": "independent"}}
        },
        {
          "width": 280, "height": 108,
          "layer": [
            {"data": {"name": "bands"}, "transform": [{"filter": "datum.site==='HM'&&datum.b==='lo'"}], "mark": {"type": "area", "color": "#f4bfd3", "opacity": 0.65},
             "encoding": {"x": {"field": "t", "type": "quantitative", "scale": {"domain": [0, 15], "reverse": true, "nice": false, "zero": false}, "axis": null}, "y": {"field": "T", "type": "quantitative", "scale": {"domain": [0, 166], "reverse": true, "nice": false, "zero": false}, "axis": {"values": [0, 100], "title": "East", "titleY": 99}}, "y2": {"field": "T2"}}},
            {"data": {"name": "bands"}, "transform": [{"filter": "datum.site==='HM'&&datum.b==='hi'"}], "mark": {"type": "area", "color": "#a9d8f3", "opacity": 0.5},
             "encoding": {"x": {"field": "t", "type": "quantitative", "scale": {"domain": [0, 15], "reverse": true, "nice": false, "zero": false}, "axis": {"orient": "top", "values": [0, 5, 10, 15], "labels": false, "title": null, "offset": 3}}, "y": {"field": "T", "type": "quantitative", "scale": {"domain": [0, 166], "reverse": true, "nice": false, "zero": false}, "axis": {"values": [0, 100], "title": "East", "titleY": 99}}, "y2": {"field": "T2"}}},
            {"data": {"name": "lines"}, "transform": [{"filter": "datum.site==='HM'&&slice(datum.s,0,1)==='g'"}], "mark": {"type": "line", "color": "#8c8c8c", "strokeWidth": 1.5},
             "encoding": {"x": {"field": "t", "type": "quantitative", "scale": {"domain": [0, 15], "reverse": true, "nice": false, "zero": false}, "axis": null}, "y": {"field": "T", "type": "quantitative", "scale": {"domain": [0, 166], "reverse": true, "nice": false, "zero": false}, "axis": {"values": [0, 100], "title": "East", "titleY": 99}}, "detail": {"field": "s"}}},
            {"data": {"name": "lines"}, "transform": [{"filter": "datum.site==='HM'&&datum.s==='lo'"}], "mark": {"type": "line", "color": "#e52329", "strokeWidth": 4},
             "encoding": {"x": {"field": "t", "type": "quantitative", "scale": {"domain": [0, 15], "reverse": true, "nice": false, "zero": false}, "axis": null}, "y": {"field": "T", "type": "quantitative", "scale": {"domain": [0, 166], "reverse": true, "nice": false, "zero": false}, "axis": {"values": [0, 100], "title": "East", "titleY": 99}}}},
            {"data": {"name": "lines"}, "transform": [{"filter": "datum.site==='HM'&&datum.s==='hi'"}], "mark": {"type": "line", "color": "#1d57a4", "strokeWidth": 4},
             "encoding": {"x": {"field": "t", "type": "quantitative", "scale": {"domain": [0, 15], "reverse": true, "nice": false, "zero": false}, "axis": {"orient": "bottom", "values": [0, 5, 10, 15], "title": "Time (Ma)"}}, "y": {"field": "T", "type": "quantitative", "scale": {"domain": [0, 166], "reverse": true, "nice": false, "zero": false}, "axis": {"values": [0, 100], "title": "East", "titleY": 99}}}},
            {"data": {"name": "arrows"}, "transform": [{"filter": "datum.site==='HM'"}], "mark": {"type": "point", "shape": "M0,0L-1,-2L0,-1.4L1,-2Z", "filled": true, "color": "#111111", "opacity": 1, "size": 340, "strokeWidth": 0},
             "encoding": {"x": {"field": "t", "type": "quantitative", "scale": {"domain": [0, 15], "reverse": true, "nice": false, "zero": false}, "axis": null}, "y": {"field": "T", "type": "quantitative", "scale": {"domain": [0, 166], "reverse": true, "nice": false, "zero": false}, "axis": {"values": [0, 100], "title": "East", "titleY": 99}}}},
            {"data": {"name": "names"}, "transform": [{"filter": "datum.site==='HM'"}], "mark": {"type": "text", "align": "left", "baseline": "alphabetic", "dy": -6, "fontSize": 18.5, "fontStyle": "italic", "fontWeight": "bold", "color": "#1a1a1a"},
             "encoding": {"x": {"datum": 14.7, "type": "quantitative", "axis": null}, "y": {"datum": 166, "type": "quantitative"}, "text": {"field": "name", "type": "nominal"}}},
            {"data": {"name": "names"}, "transform": [{"filter": "datum.site==='HM'"}], "mark": {"type": "text", "align": "right", "baseline": "alphabetic", "dy": -6, "fontSize": 18.5, "fontStyle": "italic", "color": "#1a1a1a"},
             "encoding": {"x": {"datum": 0.1, "type": "quantitative", "axis": null}, "y": {"datum": 166, "type": "quantitative"}, "text": {"field": "dir", "type": "nominal"}}}
          ],
          "resolve": {"axis": {"x": "independent"}}
        }
      ],
      "spacing": 32,
      "bounds": "flush"
    },
    {
      "vconcat": [
        {
          "width": 280, "height": 138,
          "title": {"text": "Santa Monica-Channel Islands"},
          "layer": [
            {"data": {"name": "bands"}, "transform": [{"filter": "datum.site==='SR'&&datum.b==='lo'"}], "mark": {"type": "area", "color": "#f4bfd3", "opacity": 0.65},
             "encoding": {"x": {"field": "t", "type": "quantitative", "scale": {"domain": [0, 15], "reverse": true, "nice": false, "zero": false}, "axis": null}, "y": {"field": "T", "type": "quantitative", "scale": {"domain": [0, 204], "reverse": true, "nice": false, "zero": false}, "axis": {"values": [0, 100, 200], "title": "West", "titleY": 21}}, "y2": {"field": "T2"}}},
            {"data": {"name": "bands"}, "transform": [{"filter": "datum.site==='SR'&&datum.b==='hi'"}], "mark": {"type": "area", "color": "#a9d8f3", "opacity": 0.5},
             "encoding": {"x": {"field": "t", "type": "quantitative", "scale": {"domain": [0, 15], "reverse": true, "nice": false, "zero": false}, "axis": {"orient": "top", "values": [0, 5, 10, 15], "labels": false, "title": null, "offset": 3}}, "y": {"field": "T", "type": "quantitative", "scale": {"domain": [0, 204], "reverse": true, "nice": false, "zero": false}, "axis": {"values": [0, 100, 200], "title": "West", "titleY": 21}}, "y2": {"field": "T2"}}},
            {"data": {"name": "lines"}, "transform": [{"filter": "datum.site==='SR'&&slice(datum.s,0,1)==='g'"}], "mark": {"type": "line", "color": "#8c8c8c", "strokeWidth": 1.5},
             "encoding": {"x": {"field": "t", "type": "quantitative", "scale": {"domain": [0, 15], "reverse": true, "nice": false, "zero": false}, "axis": null}, "y": {"field": "T", "type": "quantitative", "scale": {"domain": [0, 204], "reverse": true, "nice": false, "zero": false}, "axis": {"values": [0, 100, 200], "title": "West", "titleY": 21}}, "detail": {"field": "s"}}},
            {"data": {"name": "lines"}, "transform": [{"filter": "datum.site==='SR'&&datum.s==='lo'"}], "mark": {"type": "line", "color": "#e52329", "strokeWidth": 4},
             "encoding": {"x": {"field": "t", "type": "quantitative", "scale": {"domain": [0, 15], "reverse": true, "nice": false, "zero": false}, "axis": null}, "y": {"field": "T", "type": "quantitative", "scale": {"domain": [0, 204], "reverse": true, "nice": false, "zero": false}, "axis": {"values": [0, 100, 200], "title": "West", "titleY": 21}}}},
            {"data": {"name": "lines"}, "transform": [{"filter": "datum.site==='SR'&&datum.s==='hi'"}], "mark": {"type": "line", "color": "#1d57a4", "strokeWidth": 4},
             "encoding": {"x": {"field": "t", "type": "quantitative", "scale": {"domain": [0, 15], "reverse": true, "nice": false, "zero": false}, "axis": {"orient": "bottom", "values": [0, 5, 10, 15], "title": null}}, "y": {"field": "T", "type": "quantitative", "scale": {"domain": [0, 204], "reverse": true, "nice": false, "zero": false}, "axis": {"values": [0, 100, 200], "title": "West", "titleY": 21}}}},
            {"data": {"name": "arrows"}, "transform": [{"filter": "datum.site==='SR'"}], "mark": {"type": "point", "shape": "M0,0L-1,-2L0,-1.4L1,-2Z", "filled": true, "color": "#111111", "opacity": 1, "size": 340, "strokeWidth": 0},
             "encoding": {"x": {"field": "t", "type": "quantitative", "scale": {"domain": [0, 15], "reverse": true, "nice": false, "zero": false}, "axis": null}, "y": {"field": "T", "type": "quantitative", "scale": {"domain": [0, 204], "reverse": true, "nice": false, "zero": false}, "axis": {"values": [0, 100, 200], "title": "West", "titleY": 21}}}},
            {"data": {"name": "names"}, "transform": [{"filter": "datum.site==='SR'"}], "mark": {"type": "text", "align": "left", "baseline": "alphabetic", "dy": -6, "fontSize": 18.5, "fontStyle": "italic", "fontWeight": "bold", "color": "#1a1a1a"},
             "encoding": {"x": {"datum": 14.7, "type": "quantitative", "axis": null}, "y": {"datum": 204, "type": "quantitative"}, "text": {"field": "name", "type": "nominal"}}},
            {"data": {"name": "names"}, "transform": [{"filter": "datum.site==='SR'"}], "mark": {"type": "text", "align": "right", "baseline": "alphabetic", "dy": -6, "fontSize": 18.5, "fontStyle": "italic", "color": "#1a1a1a"},
             "encoding": {"x": {"datum": 0.1, "type": "quantitative", "axis": null}, "y": {"datum": 204, "type": "quantitative"}, "text": {"field": "dir", "type": "nominal"}}}
          ],
          "resolve": {"axis": {"x": "independent"}}
        },
        {
          "width": 280, "height": 136,
          "layer": [
            {"data": {"name": "bands"}, "transform": [{"filter": "datum.site==='ZR'&&datum.b==='lo'"}], "mark": {"type": "area", "color": "#f4bfd3", "opacity": 0.65},
             "encoding": {"x": {"field": "t", "type": "quantitative", "scale": {"domain": [0, 15], "reverse": true, "nice": false, "zero": false}, "axis": null}, "y": {"field": "T", "type": "quantitative", "scale": {"domain": [0, 209], "reverse": true, "nice": false, "zero": false}, "axis": {"values": [0, 100, 200], "title": null}}, "y2": {"field": "T2"}}},
            {"data": {"name": "bands"}, "transform": [{"filter": "datum.site==='ZR'&&datum.b==='hi'"}], "mark": {"type": "area", "color": "#a9d8f3", "opacity": 0.5},
             "encoding": {"x": {"field": "t", "type": "quantitative", "scale": {"domain": [0, 15], "reverse": true, "nice": false, "zero": false}, "axis": {"orient": "top", "values": [0, 5, 10, 15], "labels": false, "title": null, "offset": 3}}, "y": {"field": "T", "type": "quantitative", "scale": {"domain": [0, 209], "reverse": true, "nice": false, "zero": false}, "axis": {"values": [0, 100, 200], "title": null}}, "y2": {"field": "T2"}}},
            {"data": {"name": "lines"}, "transform": [{"filter": "datum.site==='ZR'&&slice(datum.s,0,1)==='g'"}], "mark": {"type": "line", "color": "#8c8c8c", "strokeWidth": 1.5},
             "encoding": {"x": {"field": "t", "type": "quantitative", "scale": {"domain": [0, 15], "reverse": true, "nice": false, "zero": false}, "axis": null}, "y": {"field": "T", "type": "quantitative", "scale": {"domain": [0, 209], "reverse": true, "nice": false, "zero": false}, "axis": {"values": [0, 100, 200], "title": null}}, "detail": {"field": "s"}}},
            {"data": {"name": "lines"}, "transform": [{"filter": "datum.site==='ZR'&&datum.s==='lo'"}], "mark": {"type": "line", "color": "#e52329", "strokeWidth": 4},
             "encoding": {"x": {"field": "t", "type": "quantitative", "scale": {"domain": [0, 15], "reverse": true, "nice": false, "zero": false}, "axis": null}, "y": {"field": "T", "type": "quantitative", "scale": {"domain": [0, 209], "reverse": true, "nice": false, "zero": false}, "axis": {"values": [0, 100, 200], "title": null}}}},
            {"data": {"name": "lines"}, "transform": [{"filter": "datum.site==='ZR'&&datum.s==='hi'"}], "mark": {"type": "line", "color": "#1d57a4", "strokeWidth": 4},
             "encoding": {"x": {"field": "t", "type": "quantitative", "scale": {"domain": [0, 15], "reverse": true, "nice": false, "zero": false}, "axis": {"orient": "bottom", "values": [0, 5, 10, 15], "title": null}}, "y": {"field": "T", "type": "quantitative", "scale": {"domain": [0, 209], "reverse": true, "nice": false, "zero": false}, "axis": {"values": [0, 100, 200], "title": null}}}},
            {"data": {"name": "arrows"}, "transform": [{"filter": "datum.site==='ZR'"}], "mark": {"type": "point", "shape": "M0,0L-1,-2L0,-1.4L1,-2Z", "filled": true, "color": "#111111", "opacity": 1, "size": 340, "strokeWidth": 0},
             "encoding": {"x": {"field": "t", "type": "quantitative", "scale": {"domain": [0, 15], "reverse": true, "nice": false, "zero": false}, "axis": null}, "y": {"field": "T", "type": "quantitative", "scale": {"domain": [0, 209], "reverse": true, "nice": false, "zero": false}, "axis": {"values": [0, 100, 200], "title": null}}}},
            {"data": {"name": "names"}, "transform": [{"filter": "datum.site==='ZR'"}], "mark": {"type": "text", "align": "left", "baseline": "alphabetic", "dy": -26, "fontSize": 18.5, "fontStyle": "italic", "fontWeight": "bold", "color": "#1a1a1a"},
             "encoding": {"x": {"datum": 14.7, "type": "quantitative", "axis": null}, "y": {"datum": 209, "type": "quantitative"}, "text": {"field": "name", "type": "nominal"}}},
            {"data": {"name": "names"}, "transform": [{"filter": "datum.site==='ZR'"}], "mark": {"type": "text", "align": "left", "baseline": "alphabetic", "dy": -6, "fontSize": 18.5, "fontStyle": "italic", "color": "#1a1a1a"},
             "encoding": {"x": {"datum": 14.7, "type": "quantitative", "axis": null}, "y": {"datum": 209, "type": "quantitative"}, "text": {"field": "note", "type": "nominal"}}},
            {"data": {"name": "names"}, "transform": [{"filter": "datum.site==='ZR'"}], "mark": {"type": "text", "align": "right", "baseline": "alphabetic", "dy": -6, "fontSize": 18.5, "fontStyle": "italic", "color": "#1a1a1a"},
             "encoding": {"x": {"datum": 0.1, "type": "quantitative", "axis": null}, "y": {"datum": 209, "type": "quantitative"}, "text": {"field": "dir", "type": "nominal"}}}
          ],
          "resolve": {"axis": {"x": "independent"}}
        },
        {
          "width": 280, "height": 136,
          "layer": [
            {"data": {"name": "bands"}, "transform": [{"filter": "datum.site==='LF'&&datum.b==='lo'"}], "mark": {"type": "area", "color": "#f4bfd3", "opacity": 0.65},
             "encoding": {"x": {"field": "t", "type": "quantitative", "scale": {"domain": [0, 15], "reverse": true, "nice": false, "zero": false}, "axis": null}, "y": {"field": "T", "type": "quantitative", "scale": {"domain": [0, 209], "reverse": true, "nice": false, "zero": false}, "axis": {"values": [0, 100, 200], "title": "Temperature (°C)", "titleFontSize": 26, "titleY": 108}}, "y2": {"field": "T2"}}},
            {"data": {"name": "bands"}, "transform": [{"filter": "datum.site==='LF'&&datum.b==='hi'"}], "mark": {"type": "area", "color": "#a9d8f3", "opacity": 0.5},
             "encoding": {"x": {"field": "t", "type": "quantitative", "scale": {"domain": [0, 15], "reverse": true, "nice": false, "zero": false}, "axis": {"orient": "top", "values": [0, 5, 10, 15], "labels": false, "title": null, "offset": 3}}, "y": {"field": "T", "type": "quantitative", "scale": {"domain": [0, 209], "reverse": true, "nice": false, "zero": false}, "axis": {"values": [0, 100, 200], "title": "Temperature (°C)", "titleFontSize": 26, "titleY": 108}}, "y2": {"field": "T2"}}},
            {"data": {"name": "lines"}, "transform": [{"filter": "datum.site==='LF'&&slice(datum.s,0,1)==='g'"}], "mark": {"type": "line", "color": "#8c8c8c", "strokeWidth": 1.5},
             "encoding": {"x": {"field": "t", "type": "quantitative", "scale": {"domain": [0, 15], "reverse": true, "nice": false, "zero": false}, "axis": null}, "y": {"field": "T", "type": "quantitative", "scale": {"domain": [0, 209], "reverse": true, "nice": false, "zero": false}, "axis": {"values": [0, 100, 200], "title": "Temperature (°C)", "titleFontSize": 26, "titleY": 108}}, "detail": {"field": "s"}}},
            {"data": {"name": "lines"}, "transform": [{"filter": "datum.site==='LF'&&datum.s==='lo'"}], "mark": {"type": "line", "color": "#e52329", "strokeWidth": 4},
             "encoding": {"x": {"field": "t", "type": "quantitative", "scale": {"domain": [0, 15], "reverse": true, "nice": false, "zero": false}, "axis": null}, "y": {"field": "T", "type": "quantitative", "scale": {"domain": [0, 209], "reverse": true, "nice": false, "zero": false}, "axis": {"values": [0, 100, 200], "title": "Temperature (°C)", "titleFontSize": 26, "titleY": 108}}}},
            {"data": {"name": "lines"}, "transform": [{"filter": "datum.site==='LF'&&datum.s==='hi'"}], "mark": {"type": "line", "color": "#1d57a4", "strokeWidth": 4},
             "encoding": {"x": {"field": "t", "type": "quantitative", "scale": {"domain": [0, 15], "reverse": true, "nice": false, "zero": false}, "axis": {"orient": "bottom", "values": [0, 5, 10, 15], "title": null}}, "y": {"field": "T", "type": "quantitative", "scale": {"domain": [0, 209], "reverse": true, "nice": false, "zero": false}, "axis": {"values": [0, 100, 200], "title": "Temperature (°C)", "titleFontSize": 26, "titleY": 108}}}},
            {"data": {"name": "arrows"}, "transform": [{"filter": "datum.site==='LF'"}], "mark": {"type": "point", "shape": "M0,0L-1,-2L0,-1.4L1,-2Z", "filled": true, "color": "#111111", "opacity": 1, "size": 340, "strokeWidth": 0},
             "encoding": {"x": {"field": "t", "type": "quantitative", "scale": {"domain": [0, 15], "reverse": true, "nice": false, "zero": false}, "axis": null}, "y": {"field": "T", "type": "quantitative", "scale": {"domain": [0, 209], "reverse": true, "nice": false, "zero": false}, "axis": {"values": [0, 100, 200], "title": "Temperature (°C)", "titleFontSize": 26, "titleY": 108}}}},
            {"data": {"name": "names"}, "transform": [{"filter": "datum.site==='LF'"}], "mark": {"type": "text", "align": "left", "baseline": "alphabetic", "dy": -26, "fontSize": 18.5, "fontStyle": "italic", "fontWeight": "bold", "color": "#1a1a1a"},
             "encoding": {"x": {"datum": 14.7, "type": "quantitative", "axis": null}, "y": {"datum": 209, "type": "quantitative"}, "text": {"field": "name", "type": "nominal"}}},
            {"data": {"name": "names"}, "transform": [{"filter": "datum.site==='LF'"}], "mark": {"type": "text", "align": "left", "baseline": "alphabetic", "dy": -6, "fontSize": 18.5, "fontStyle": "italic", "color": "#1a1a1a"},
             "encoding": {"x": {"datum": 14.7, "type": "quantitative", "axis": null}, "y": {"datum": 209, "type": "quantitative"}, "text": {"field": "note", "type": "nominal"}}},
            {"data": {"name": "names"}, "transform": [{"filter": "datum.site==='LF'"}], "mark": {"type": "text", "align": "right", "baseline": "alphabetic", "dy": -6, "fontSize": 18.5, "fontStyle": "italic", "color": "#1a1a1a"},
             "encoding": {"x": {"datum": 0.1, "type": "quantitative", "axis": null}, "y": {"datum": 209, "type": "quantitative"}, "text": {"field": "dir", "type": "nominal"}}}
          ],
          "resolve": {"axis": {"x": "independent"}}
        },
        {
          "width": 280, "height": 136,
          "layer": [
            {"data": {"name": "bands"}, "transform": [{"filter": "datum.site==='HW'&&datum.b==='lo'"}], "mark": {"type": "area", "color": "#f4bfd3", "opacity": 0.65},
             "encoding": {"x": {"field": "t", "type": "quantitative", "scale": {"domain": [0, 15], "reverse": true, "nice": false, "zero": false}, "axis": null}, "y": {"field": "T", "type": "quantitative", "scale": {"domain": [0, 209], "reverse": true, "nice": false, "zero": false}, "axis": {"values": [0, 100, 200], "title": "East", "titleY": 116}}, "y2": {"field": "T2"}}},
            {"data": {"name": "bands"}, "transform": [{"filter": "datum.site==='HW'&&datum.b==='hi'"}], "mark": {"type": "area", "color": "#a9d8f3", "opacity": 0.5},
             "encoding": {"x": {"field": "t", "type": "quantitative", "scale": {"domain": [0, 15], "reverse": true, "nice": false, "zero": false}, "axis": {"orient": "top", "values": [0, 5, 10, 15], "labels": false, "title": null, "offset": 3}}, "y": {"field": "T", "type": "quantitative", "scale": {"domain": [0, 209], "reverse": true, "nice": false, "zero": false}, "axis": {"values": [0, 100, 200], "title": "East", "titleY": 116}}, "y2": {"field": "T2"}}},
            {"data": {"name": "lines"}, "transform": [{"filter": "datum.site==='HW'&&slice(datum.s,0,1)==='p'"}], "mark": {"type": "line", "color": "#c49b6c", "strokeWidth": 2},
             "encoding": {"x": {"field": "t", "type": "quantitative", "scale": {"domain": [0, 15], "reverse": true, "nice": false, "zero": false}, "axis": null}, "y": {"field": "T", "type": "quantitative", "scale": {"domain": [0, 209], "reverse": true, "nice": false, "zero": false}, "axis": {"values": [0, 100, 200], "title": "East", "titleY": 116}}, "detail": {"field": "s"}}},
            {"data": {"name": "lines"}, "transform": [{"filter": "datum.site==='HW'&&datum.s==='lo'"}], "mark": {"type": "line", "color": "#e52329", "strokeWidth": 4},
             "encoding": {"x": {"field": "t", "type": "quantitative", "scale": {"domain": [0, 15], "reverse": true, "nice": false, "zero": false}, "axis": null}, "y": {"field": "T", "type": "quantitative", "scale": {"domain": [0, 209], "reverse": true, "nice": false, "zero": false}, "axis": {"values": [0, 100, 200], "title": "East", "titleY": 116}}}},
            {"data": {"name": "lines"}, "transform": [{"filter": "datum.site==='HW'&&datum.s==='hc'"}], "mark": {"type": "line", "color": "#2aa9e0", "strokeWidth": 4.5},
             "encoding": {"x": {"field": "t", "type": "quantitative", "scale": {"domain": [0, 15], "reverse": true, "nice": false, "zero": false}, "axis": {"orient": "bottom", "values": [0, 5, 10, 15], "title": "Time (Ma)"}}, "y": {"field": "T", "type": "quantitative", "scale": {"domain": [0, 209], "reverse": true, "nice": false, "zero": false}, "axis": {"values": [0, 100, 200], "title": "East", "titleY": 116}}}},
            {"data": {"name": "arrows"}, "transform": [{"filter": "datum.site==='HW'"}], "mark": {"type": "point", "shape": "M0,0L-1,-2L0,-1.4L1,-2Z", "filled": true, "color": "#111111", "opacity": 1, "size": 340, "strokeWidth": 0},
             "encoding": {"x": {"field": "t", "type": "quantitative", "scale": {"domain": [0, 15], "reverse": true, "nice": false, "zero": false}, "axis": null}, "y": {"field": "T", "type": "quantitative", "scale": {"domain": [0, 209], "reverse": true, "nice": false, "zero": false}, "axis": {"values": [0, 100, 200], "title": "East", "titleY": 116}}}},
            {"data": {"name": "names"}, "transform": [{"filter": "datum.site==='HW'"}], "mark": {"type": "text", "align": "left", "baseline": "alphabetic", "dy": -6, "fontSize": 18.5, "fontStyle": "italic", "fontWeight": "bold", "color": "#1a1a1a"},
             "encoding": {"x": {"datum": 14.7, "type": "quantitative", "axis": null}, "y": {"datum": 209, "type": "quantitative"}, "text": {"field": "name", "type": "nominal"}}},
            {"data": {"name": "names"}, "transform": [{"filter": "datum.site==='HW'"}], "mark": {"type": "text", "align": "right", "baseline": "alphabetic", "dy": -6, "fontSize": 18.5, "fontStyle": "italic", "color": "#1a1a1a"},
             "encoding": {"x": {"datum": 0.1, "type": "quantitative", "axis": null}, "y": {"datum": 209, "type": "quantitative"}, "text": {"field": "dir", "type": "nominal"}}}
          ],
          "resolve": {"axis": {"x": "independent"}}
        },
        {
          "width": 280, "height": 65,
          "data": {"values": []},
          "mark": {"type": "text"},
          "encoding": {}
        },
        {
          "width": 280, "height": 215,
          "view": {"stroke": "#1a1a1a", "strokeWidth": 2.5, "cornerRadius": 12},
          "data": {"name": "key"},
          "layer": [
            {
              "transform": [{"filter": "datum.item!=='predicted history'"}],
              "mark": {"type": "point", "filled": true, "opacity": 1, "size": 2025, "strokeWidth": 0},
              "encoding": {
                "x": {"datum": 0.1375, "type": "quantitative", "scale": {"domain": [0, 1]}, "axis": null},
                "y": {"field": "item", "type": "nominal", "sort": null, "scale": {"domain": ["highest sample", "error on highest sample", "intermediate samples", "lowest sample", "error on lowest sample", "predicted history"], "padding": 1.0833, "align": 0.385}, "axis": null},
                "color": {"field": "item", "type": "nominal", "legend": null, "scale": {
                  "domain": ["highest sample", "error on highest sample", "intermediate samples", "lowest sample", "error on lowest sample", "predicted history"],
                  "range": ["#1d57a4", "#c6e5f8", "#8c8c8c", "#e52329", "#f4c4d6", "#c49b6c"]}},
                "shape": {"field": "item", "type": "nominal", "legend": null, "scale": {
                  "domain": ["highest sample", "error on highest sample", "intermediate samples", "lowest sample", "error on lowest sample", "predicted history"],
                  "range": ["M-1,-0.09H1V0.09H-1Z", "M-1,-0.24H1V0.24H-1Z", "M-1,-0.035H1V0.035H-1Z", "M-1,-0.09H1V0.09H-1Z", "M-1,-0.24H1V0.24H-1Z", "M-1,-0.09H1V0.09H-1Z"]}}
              }
            },
            {
              "transform": [{"filter": "datum.item==='predicted history'"}],
              "mark": {"type": "point", "filled": true, "opacity": 1, "size": 2025, "strokeWidth": 0, "yOffset": 11},
              "encoding": {
                "x": {"datum": 0.1375, "type": "quantitative", "scale": {"domain": [0, 1]}, "axis": null},
                "y": {"field": "item", "type": "nominal", "sort": null, "scale": {"domain": ["highest sample", "error on highest sample", "intermediate samples", "lowest sample", "error on lowest sample", "predicted history"], "padding": 1.0833, "align": 0.385}, "axis": null},
                "color": {"field": "item", "type": "nominal", "legend": null},
                "shape": {"field": "item", "type": "nominal", "legend": null}
              }
            },
            {
              "mark": {"type": "text", "align": "left", "baseline": "middle", "fontSize": 18, "fontStyle": "italic", "lineHeight": 22, "color": "#1a1a1a"},
              "encoding": {
                "x": {"datum": 0.2286, "type": "quantitative", "scale": {"domain": [0, 1]}, "axis": null},
                "y": {"field": "item", "type": "nominal", "sort": null, "scale": {"domain": ["highest sample", "error on highest sample", "intermediate samples", "lowest sample", "error on lowest sample", "predicted history"], "padding": 1.0833, "align": 0.385}, "axis": null},
                "text": {"field": "label", "type": "nominal"}
              }
            }
          ]
        }
      ],
      "spacing": 33,
      "bounds": "flush"
    }
  ],
  "config": {
    "font": "Liberation Sans",
    "view": {"stroke": null},
    "axis": {
      "domainColor": "#1a1a1a", "domainWidth": 2, "tickColor": "#1a1a1a", "tickWidth": 2,
      "labelColor": "#1a1a1a", "titleColor": "#1a1a1a", "labelFont": "Liberation Sans", "titleFont": "Liberation Sans",
      "labelFontSize": 24, "titleFontWeight": "normal", "grid": false, "labelFlush": false, "labelOverlap": false
    },
    "axisLeft": {"tickSize": 4, "labelPadding": 1, "titleFontSize": 24, "titlePadding": 6},
    "axisBottom": {"tickSize": 5, "labelPadding": 0, "titleFontSize": 26, "titlePadding": -4},
    "axisTop": {"tickSize": 4},
    "title": {"font": "Liberation Sans", "fontSize": 26, "fontStyle": "italic", "fontWeight": "bold", "color": "#1a1a1a", "anchor": "middle", "frame": "group", "baseline": "alphabetic", "offset": 1}
  }
}
